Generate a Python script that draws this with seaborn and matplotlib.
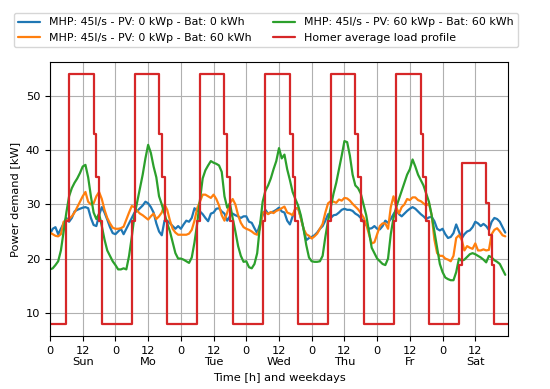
import matplotlib
matplotlib.use("Agg")
import matplotlib.pyplot as plt
import seaborn as sns
import pandas as pd

# ---------------- data (hourly, one week starting Sunday 0h) ----------------
day_names = ["Sun", "Mo", "Tue", "Wed", "Thu", "Fr", "Sat"]

mhp_pv0_bat0 = [
    24.5, 25.5, 25.8, 24.5, 25.5, 26.5, 27.5, 26.8, 27.5, 28.7, 29.0, 29.2, 29.4, 29.5, 29.3, 27.5, 26.2, 26.0, 28.0, 29.5, 28.5, 27.2, 25.8, 24.7,
    24.5, 25.0, 25.5, 24.5, 25.5, 26.5, 27.5, 28.5, 28.8, 29.3, 29.8, 30.5, 30.2, 29.5, 28.5, 26.5, 25.0, 24.3, 27.0, 27.0, 26.5, 26.0, 25.5, 26.0,
    25.5, 26.3, 27.0, 26.8, 27.5, 29.3, 28.8, 28.7, 28.2, 27.5, 26.9, 28.3, 28.5, 29.2, 29.3, 28.7, 28.3, 27.0, 27.8, 28.3, 28.0, 27.8, 27.5, 27.8,
    27.8, 26.8, 26.6, 25.6, 24.7, 26.3, 28.0, 29.0, 28.3, 28.5, 28.7, 29.0, 29.4, 28.7, 28.5, 27.0, 26.3, 27.8, 29.2, 29.4, 27.5, 25.5, 23.4, 23.8,
    24.0, 24.3, 24.8, 25.5, 26.0, 27.0, 28.2, 27.5, 28.0, 28.1, 28.5, 29.0, 29.2, 29.0, 29.0, 28.8, 28.3, 28.0, 27.5, 26.8, 26.2, 25.5, 25.6, 26.0,
    25.5, 25.4, 26.0, 27.0, 26.6, 27.3, 28.2, 29.0, 28.2, 27.8, 28.3, 28.8, 29.2, 29.5, 29.2, 28.7, 28.2, 27.8, 27.3, 27.6, 27.7, 26.9, 25.5, 25.2,
    25.5, 24.5, 23.8, 24.0, 24.7, 26.3, 25.0, 23.7, 24.5, 25.0, 25.2, 25.8, 26.8, 26.5, 26.0, 26.4, 26.0, 25.3, 26.8, 27.5, 27.3, 26.8, 25.8, 24.8,
]

mhp_pv0_bat60 = [
    24.8, 24.5, 24.2, 24.1, 24.5, 26.8, 27.0, 27.3, 27.8, 28.5, 29.5, 30.5, 31.5, 32.3, 30.5, 30.0, 30.2, 31.5, 32.3, 31.0, 29.0, 27.5, 26.5, 25.7,
    25.5, 25.5, 25.6, 25.9, 27.2, 28.5, 29.7, 29.5, 28.8, 28.3, 28.0, 27.6, 27.2, 27.8, 28.3, 27.3, 27.8, 28.5, 30.0, 29.0, 27.0, 25.5, 24.8, 24.4,
    24.4, 24.4, 24.4, 24.6, 25.3, 27.0, 29.3, 30.5, 31.8, 31.8, 31.5, 31.2, 31.8, 31.0, 29.8, 28.0, 27.0, 28.5, 30.2, 31.0, 30.0, 28.0, 26.6, 25.8,
    25.5, 25.3, 25.0, 24.6, 24.4, 25.5, 28.5, 28.6, 28.2, 28.6, 28.4, 28.8, 29.0, 29.3, 29.6, 28.5, 28.3, 28.0, 29.3, 29.3, 27.5, 25.5, 24.5, 24.2,
    23.7, 24.1, 24.6, 25.5, 26.4, 28.5, 30.2, 30.6, 30.5, 30.3, 30.9, 30.7, 31.2, 31.1, 30.7, 30.1, 29.6, 29.1, 28.4, 27.6, 26.3, 24.5, 22.8, 23.0,
    24.5, 26.0, 26.5, 26.5, 25.5, 29.5, 31.5, 29.5, 28.3, 29.5, 30.0, 31.0, 30.8, 31.3, 31.3, 30.8, 30.6, 30.2, 29.8, 30.2, 28.0, 23.5, 21.0, 20.5,
    20.5, 20.0, 19.8, 19.5, 20.5, 23.8, 24.3, 23.5, 21.5, 22.3, 22.0, 21.8, 22.8, 21.5, 21.5, 21.7, 21.5, 21.6, 24.5, 25.3, 25.6, 25.0, 24.3, 24.1,
]

mhp_pv60_bat60 = [
    18.0, 18.2, 18.8, 19.5, 21.5, 25.0, 28.5, 31.5, 33.0, 34.0, 34.8, 35.8, 37.0, 37.3, 35.0, 31.5, 28.5, 27.3, 28.3, 26.0, 23.5, 21.5, 20.5, 19.5,
    18.8, 18.0, 18.0, 18.2, 18.0, 20.5, 24.0, 28.0, 30.5, 33.0, 35.5, 38.5, 41.0, 39.5, 37.0, 35.0, 31.5, 30.0, 28.3, 26.5, 25.0, 23.0, 21.0, 20.0,
    20.0, 19.8, 19.5, 19.2, 20.2, 23.0, 26.5, 30.8, 34.8, 36.3, 37.2, 38.0, 37.7, 37.5, 37.2, 36.0, 31.5, 29.4, 30.2, 27.5, 25.0, 22.3, 20.5, 19.4,
    19.5, 18.4, 18.2, 19.0, 21.0, 26.0, 30.5, 32.5, 33.5, 34.8, 36.5, 38.0, 40.4, 38.5, 39.2, 36.5, 34.5, 32.3, 31.0, 29.8, 28.0, 25.5, 22.5, 20.2,
    19.5, 19.4, 19.4, 19.5, 20.5, 24.0, 27.0, 29.5, 32.0, 34.0, 36.5, 39.0, 41.7, 41.5, 39.0, 35.5, 33.5, 33.0, 32.0, 30.0, 28.0, 25.0, 22.0, 21.0,
    20.0, 19.5, 19.0, 18.8, 20.0, 24.5, 27.5, 29.5, 31.0, 32.5, 34.0, 35.5, 36.5, 38.3, 37.0, 35.5, 34.5, 33.5, 32.0, 30.5, 28.0, 25.0, 22.0, 19.0,
    17.5, 16.5, 16.2, 16.0, 16.0, 17.5, 20.0, 19.6, 19.8, 20.3, 20.8, 21.0, 20.8, 20.5, 20.2, 19.8, 19.3, 20.5, 20.2, 19.7, 19.4, 19.0, 18.0, 17.0,
]

# Homer average load profile, hourly steps (Sun..Fr identical, Sat reduced)
load_weekday = [8, 8, 8, 8, 8, 8, 27, 54, 54, 54, 54, 54, 54, 54, 54, 54, 43, 35, 27, 8, 8, 8, 8, 8]
load_saturday = [8, 8, 8, 8, 8, 8, 18.9, 37.7, 37.7, 37.7, 37.7, 37.7, 37.7, 37.7, 37.7, 37.7, 30.2, 24.4, 18.9, 8, 8, 8, 8, 8]

series_labels = [
    "MHP: 45l/s - PV: 0 kWp - Bat: 0 kWh",
    "MHP: 45l/s - PV: 0 kWp - Bat: 60 kWh",
    "MHP: 45l/s - PV: 60 kWp - Bat: 60 kWh",
    "Homer average load profile",
]
colors = ["#1f77b4", "#ff7f0e", "#2ca02c", "#d62728"]

hours = list(range(len(mhp_pv0_bat0)))
load = load_weekday * 6 + load_saturday
load_hours = list(range(len(load) + 1))
load_steps = load + [load[-1]]

# ---------------- style ----------------
sns.set_style("ticks", {"axes.grid": True, "grid.color": "#b0b0b0",
                        "axes.edgecolor": "black", "xtick.color": "black",
                        "ytick.color": "black", "text.color": "black",
                        "axes.labelcolor": "black"})
plt.rcParams["font.family"] = ["DejaVu Sans"]
plt.rcParams["font.size"] = 8.2
plt.rcParams["xtick.direction"] = "out"
plt.rcParams["ytick.direction"] = "out"

fig = plt.figure(figsize=(5.5, 3.89), dpi=100)
ax = fig.add_axes([50 / 550, 1 - 336 / 389, 458 / 550, 274 / 389])

for vals, lab, col in zip([mhp_pv0_bat0, mhp_pv0_bat60, mhp_pv60_bat60], series_labels[:3], colors[:3]):
    sns.lineplot(x=hours, y=vals, ax=ax, color=col, lw=1.6, label=lab)
sns.lineplot(x=load_hours, y=load_steps, ax=ax, color=colors[3], lw=1.6,
             drawstyle="steps-post", label=series_labels[3])

ax.set_xlim(0, 168)
xt = list(range(0, 168, 12))
xl = []
for i, t in enumerate(xt):
    if i % 2 == 0:
        xl.append("0")
    else:
        xl.append("12\n" + day_names[i // 2])
ax.set_xticks(xt)
ax.set_xticklabels(xl, fontsize=8.2)
ax.set_yticks([10, 20, 30, 40, 50])
ax.tick_params(axis="both", labelsize=8.2, length=3.5, width=0.8)
ax.grid(True, color="#b0b0b0", lw=0.8)
for s in ax.spines.values():
    s.set_color("black")
    s.set_linewidth(0.8)

ax.set_xlabel("Time [h] and weekdays", fontsize=8.2)
ax.set_ylabel("Power demand [kW]", fontsize=8.2)

ax.legend(loc="upper center", bbox_to_anchor=(266 / 550, 1 - 13 / 389),
          bbox_transform=fig.transFigure, ncol=2, borderaxespad=0,
          fontsize=7.9, frameon=True, edgecolor="#cccccc", fancybox=True)

fig.savefig("out.png", dpi=100)
